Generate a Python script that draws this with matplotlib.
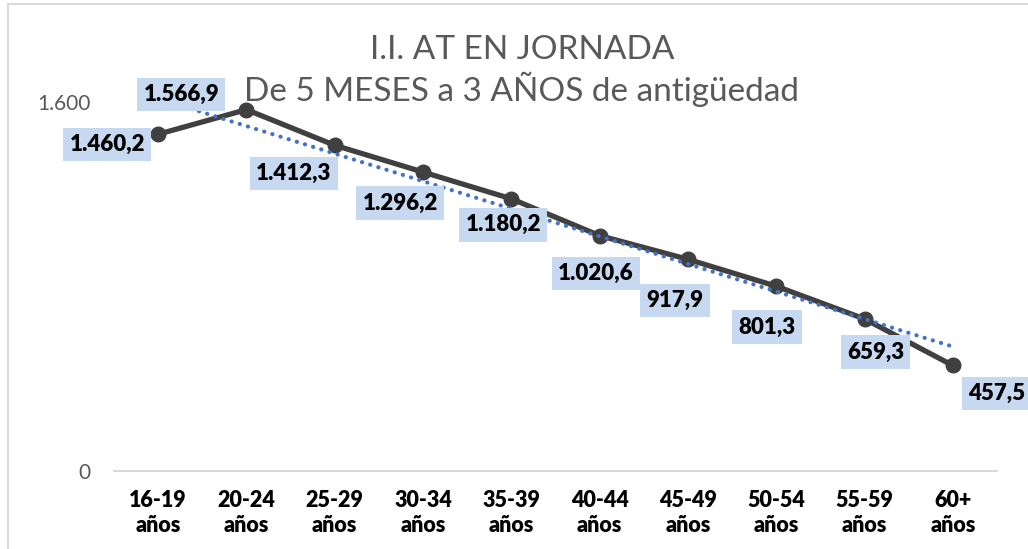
import matplotlib

matplotlib.use("Agg")
import matplotlib.pyplot as plt
import numpy as np
from matplotlib.patches import Rectangle

plt.rcParams["font.family"] = ["Lato", "DejaVu Sans"]

# data
age_groups = ["16-19\naños", "20-24\naños", "25-29\naños", "30-34\naños", "35-39\naños",
              "40-44\naños", "45-49\naños", "50-54\naños", "55-59\naños", "60+\naños"]
incidence = [1460.2, 1566.9, 1412.3, 1296.2, 1180.2, 1020.6, 917.9, 801.3, 659.3, 457.5]
value_labels = ["1.460,2", "1.566,9", "1.412,3", "1.296,2", "1.180,2",
                "1.020,6", "917,9", "801,3", "659,3", "457,5"]
y_ticks = [0, 1600]
y_tick_labels = ["0", "1.600"]
title = "I.I. AT EN JORNADA\nDe 5 MESES a 3 AÑOS de antigüedad"

# label placement relative to each point, in pixels (x right, y down)
label_offsets = [(-51, 10), (-65, -15), (-41, 28), (-23, 31), (-8, 26),
                 (-4, 38), (-13, 41), (-9, 41), (11, 33), (44, 28)]

LINE_COLOR = "#404040"
TREND_COLOR = "#4472C4"
LABEL_BG = "#C6D9F0"
TEXT_GRAY = "#595959"

W, H = 1028, 549
fig = plt.figure(figsize=(W / 100, H / 100), dpi=100)
ax = fig.add_axes([114 / W, 1 - 471 / H, (997 - 114) / W, (471 - 102) / H])

# light chart-area border (cut off at right and bottom like the reference)
fig.patches.append(Rectangle((8 / W, -0.1), 1.2, 1 - 4 / H + 0.1, transform=fig.transFigure,
                             fill=False, edgecolor="#D9D9D9", linewidth=1.5))

x = np.arange(len(incidence))
ax.plot(x, incidence, color=LINE_COLOR, linewidth=3.8, marker="o", markersize=10.5,
        zorder=3)

# linear trend line
slope, intercept = np.polyfit(x, incidence, 1)
ax.plot(x, slope * x + intercept, color=TREND_COLOR, linewidth=3.0,
        linestyle=(0, (0.05, 2.0)), dash_capstyle="round", zorder=4)

for xi, val, lab, (dx, dy) in zip(x, incidence, value_labels, label_offsets):
    ax.annotate(lab, (xi, val), xytext=(dx, -dy), textcoords="offset pixels",
                ha="center", va="center", fontsize=16, fontweight="heavy", color="black",
                bbox=dict(boxstyle="square,pad=0.28", facecolor=LABEL_BG, edgecolor="none"),
                annotation_clip=False, zorder=5)

ax.set_xlim(-0.5, len(incidence) - 0.5)
ax.set_ylim(0, 1600)
ax.set_xticks(x)
ax.set_xticklabels(age_groups, fontsize=15.5, fontweight="heavy", color="black",
                   linespacing=1.2)
ax.set_yticks(y_ticks)
ax.set_yticklabels(y_tick_labels, fontsize=15, color=TEXT_GRAY)
ax.tick_params(axis="both", length=0)
ax.tick_params(axis="x", pad=14)
ax.tick_params(axis="y", pad=17)
for side in ["top", "right", "left"]:
    ax.spines[side].set_visible(False)
ax.spines["bottom"].set_color("#D9D9D9")
ax.spines["bottom"].set_linewidth(1.5)
ax.patch.set_alpha(0)

fig.text(522 / W, 1 - 71 / H, title, ha="center", va="center", fontsize=24,
         color=TEXT_GRAY, linespacing=1.2)

fig.savefig("out.png", dpi=100)
